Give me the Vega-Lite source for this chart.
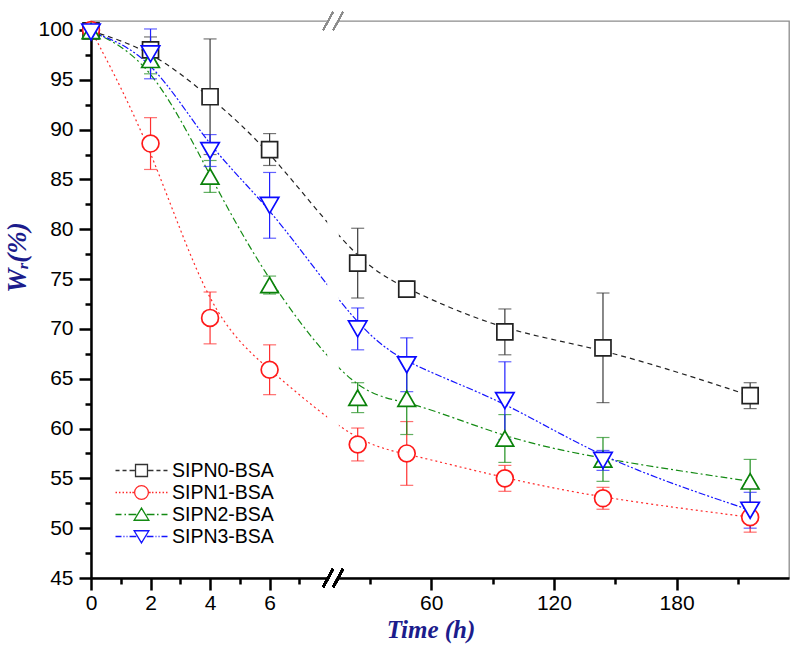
{
  "$schema": "https://vega.github.io/schema/vega-lite/v6.json",
  "width": 698,
  "height": 557,
  "autosize": {"type": "none"},
  "padding": {"left": 91, "top": 21, "right": 11, "bottom": 74},
  "background": "white",
  "config": {
    "view": {"stroke": "#8c8c8c", "strokeWidth": 1.3},
    "font": "Liberation Sans"
  },
  "data": {
    "values": [
      {"s": "SIPN0-BSA", "t": 0, "w": 99.9, "e": 0.3},
      {"s": "SIPN0-BSA", "t": 2, "w": 98.0, "e": 1.3},
      {"s": "SIPN0-BSA", "t": 4, "w": 93.3, "e": 5.8},
      {"s": "SIPN0-BSA", "t": 6, "w": 88.0, "e": 1.6},
      {"s": "SIPN0-BSA", "t": 24, "w": 76.6, "e": 3.5},
      {"s": "SIPN0-BSA", "t": 48, "w": 74.0, "e": 0.8},
      {"s": "SIPN0-BSA", "t": 96, "w": 69.7, "e": 2.3},
      {"s": "SIPN0-BSA", "t": 144, "w": 68.1, "e": 5.5},
      {"s": "SIPN0-BSA", "t": 216, "w": 63.3, "e": 1.3},
      {"s": "SIPN1-BSA", "t": 0, "w": 100.0, "e": 0.2},
      {"s": "SIPN1-BSA", "t": 2, "w": 88.6, "e": 2.6},
      {"s": "SIPN1-BSA", "t": 4, "w": 71.1, "e": 2.6},
      {"s": "SIPN1-BSA", "t": 6, "w": 65.9, "e": 2.5},
      {"s": "SIPN1-BSA", "t": 24, "w": 58.4, "e": 1.65},
      {"s": "SIPN1-BSA", "t": 48, "w": 57.5, "e": 3.2},
      {"s": "SIPN1-BSA", "t": 96, "w": 55.0, "e": 1.3},
      {"s": "SIPN1-BSA", "t": 144, "w": 53.0, "e": 1.1},
      {"s": "SIPN1-BSA", "t": 216, "w": 51.1, "e": 1.5},
      {"s": "SIPN2-BSA", "t": 0, "w": 99.9, "e": 0.3},
      {"s": "SIPN2-BSA", "t": 2, "w": 97.0, "e": 1.4},
      {"s": "SIPN2-BSA", "t": 4, "w": 85.3, "e": 1.6},
      {"s": "SIPN2-BSA", "t": 6, "w": 74.4, "e": 0.9},
      {"s": "SIPN2-BSA", "t": 24, "w": 63.1, "e": 1.5},
      {"s": "SIPN2-BSA", "t": 48, "w": 63.0, "e": 3.6},
      {"s": "SIPN2-BSA", "t": 96, "w": 59.0, "e": 2.4},
      {"s": "SIPN2-BSA", "t": 144, "w": 56.9, "e": 2.2},
      {"s": "SIPN2-BSA", "t": 216, "w": 54.7, "e": 2.2},
      {"s": "SIPN3-BSA", "t": 0, "w": 99.8, "e": 0.3},
      {"s": "SIPN3-BSA", "t": 2, "w": 97.6, "e": 2.5},
      {"s": "SIPN3-BSA", "t": 4, "w": 87.9, "e": 1.6},
      {"s": "SIPN3-BSA", "t": 6, "w": 82.4, "e": 3.3},
      {"s": "SIPN3-BSA", "t": 24, "w": 70.0, "e": 2.1},
      {"s": "SIPN3-BSA", "t": 48, "w": 66.4, "e": 2.7},
      {"s": "SIPN3-BSA", "t": 96, "w": 62.8, "e": 3.9},
      {"s": "SIPN3-BSA", "t": 144, "w": 56.8, "e": 1.0},
      {"s": "SIPN3-BSA", "t": 216, "w": 51.8, "e": 1.8}
    ]
  },
  "resolve": {
    "scale": {"color": "independent", "shape": "independent", "strokeDash": "independent", "size": "independent"},
    "axis": {"x": "independent", "y": "independent"}
  },
  "layer": [
    {
      "mark": {"type": "line", "interpolate": "basis", "strokeWidth": 1.2},
      "encoding": {
        "x": {
          "field": "t", "type": "quantitative",
          "scale": {"domain": [0, 8.18, 12.9, 235], "range": [0, 243.5, 244, 698], "nice": false, "zero": false},
          "axis": {
            "values": [0, 2, 4, 6, 60, 120, 180], "title": "Time (h)", "grid": false, "zindex": 0,
            "domainColor": "black", "domainWidth": 2.5, "tickColor": "black", "tickWidth": 2.5, "tickSize": 12,
            "labelFontSize": 21, "labelColor": "black", "labelPadding": 2, "labelFlush": false, "labelOverlap": false,
            "titleFont": "Liberation Serif", "titleFontStyle": "italic", "titleFontWeight": "bold", "titleFontSize": 25,
            "titleColor": "#1c1c8c", "titlePadding": 4, "titleX": 339.5, "titleAnchor": "middle"
          }
        },
        "y": {
          "field": "w", "type": "quantitative",
          "scale": {"domain": [45, 100.9], "nice": false, "zero": false},
          "axis": {
            "values": [45, 50, 55, 60, 65, 70, 75, 80, 85, 90, 95, 100], "title": "Wᵣ(%)", "grid": false, "zindex": 0,
            "domainColor": "black", "domainWidth": 2.5, "tickColor": "black", "tickWidth": 2.5, "tickSize": 12,
            "labelFontSize": 21, "labelColor": "black", "labelPadding": 6, "labelFlush": false, "labelOverlap": false,
            "titleFont": "Liberation Serif", "titleFontStyle": "italic", "titleFontWeight": "bold", "titleFontSize": 27,
            "titleColor": "#1c1c8c", "titlePadding": 6, "titleY": 236, "titleAnchor": "middle"
          }
        },
        "color": {
          "field": "s", "type": "nominal", "legend": null,
          "scale": {"domain": ["SIPN0-BSA", "SIPN1-BSA", "SIPN2-BSA", "SIPN3-BSA"], "range": ["#222222", "#ff2a2a", "#138a13", "#1414ff"]}
        },
        "strokeDash": {
          "field": "s", "type": "nominal", "legend": null,
          "scale": {"domain": ["SIPN0-BSA", "SIPN1-BSA", "SIPN2-BSA", "SIPN3-BSA"], "range": [[5, 4], [2, 3], [7, 3, 2, 3], [7, 2, 2, 2, 2, 2]]}
        }
      }
    },
    {
      "mark": {"type": "errorbar", "ticks": {"size": 13}, "thickness": 1.2},
      "encoding": {
        "x": {"field": "t", "type": "quantitative", "axis": null},
        "y": {"field": "w", "type": "quantitative", "axis": null},
        "yError": {"field": "e"},
        "color": {
          "field": "s", "type": "nominal", "legend": null,
          "scale": {"domain": ["SIPN0-BSA", "SIPN1-BSA", "SIPN2-BSA", "SIPN3-BSA"], "range": ["#3a3a3a", "#ff3030", "#1f8f1f", "#2020ff"]}
        }
      }
    },
    {
      "mark": {"type": "point", "filled": false, "fill": "white", "fillOpacity": 1, "opacity": 1, "strokeWidth": 1.7},
      "encoding": {
        "x": {
          "field": "t", "type": "quantitative",
          "axis": {"values": [1, 3, 5, 7, 30, 90, 150, 210], "orient": "bottom", "labels": false, "title": null, "domain": false,
                   "grid": false, "zindex": 0, "tickColor": "black", "tickWidth": 2.5, "tickSize": 6}
        },
        "y": {
          "field": "w", "type": "quantitative",
          "axis": {"values": [47.5, 52.5, 57.5, 62.5, 67.5, 72.5, 77.5, 82.5, 87.5, 92.5, 97.5], "orient": "left", "labels": false, "title": null,
                   "domain": false, "grid": false, "zindex": 0, "tickColor": "black", "tickWidth": 2.5, "tickSize": 6}
        },
        "color": {
          "field": "s", "type": "nominal", "legend": null,
          "scale": {"domain": ["SIPN0-BSA", "SIPN1-BSA", "SIPN2-BSA", "SIPN3-BSA"], "range": ["#222222", "#ff1a1a", "#0a820a", "#0a0aff"]}
        },
        "shape": {
          "field": "s", "type": "nominal", "legend": null,
          "scale": {"domain": ["SIPN0-BSA", "SIPN1-BSA", "SIPN2-BSA", "SIPN3-BSA"], "range": ["square", "circle", "triangle-up", "triangle-down"]}
        },
        "size": {
          "field": "s", "type": "nominal", "legend": null,
          "scale": {"domain": ["SIPN0-BSA", "SIPN1-BSA", "SIPN2-BSA", "SIPN3-BSA"], "range": [256, 340, 420, 420]}
        }
      }
    },
    {
      "mark": {"type": "rect", "color": "white", "clip": false},
      "encoding": {
        "x": {"datum": 7.96, "type": "quantitative", "axis": null},
        "x2": {"datum": 14.4},
        "y": {"datum": 44.2, "type": "quantitative", "axis": null},
        "y2": {"datum": 101.7}
      }
    },
    {
      "mark": {"type": "rule", "color": "black", "strokeWidth": 2.2, "clip": false},
      "encoding": {
        "x": {"datum": 7.8, "type": "quantitative", "axis": null},
        "x2": {"datum": 8.13},
        "y": {"datum": 44.1, "type": "quantitative", "axis": null},
        "y2": {"datum": 45.9}
      }
    },
    {
      "mark": {"type": "rule", "color": "black", "strokeWidth": 2.2, "clip": false},
      "encoding": {
        "x": {"datum": 8.14, "type": "quantitative", "axis": null},
        "x2": {"datum": 16.8},
        "y": {"datum": 44.1, "type": "quantitative", "axis": null},
        "y2": {"datum": 45.9}
      }
    },
    {
      "mark": {"type": "rule", "color": "#8c8c8c", "strokeWidth": 1.3, "clip": false},
      "encoding": {
        "x": {"datum": 7.8, "type": "quantitative", "axis": null},
        "x2": {"datum": 8.13},
        "y": {"datum": 100.0, "type": "quantitative", "axis": null},
        "y2": {"datum": 101.8}
      }
    },
    {
      "mark": {"type": "rule", "color": "#8c8c8c", "strokeWidth": 1.3, "clip": false},
      "encoding": {
        "x": {"datum": 8.14, "type": "quantitative", "axis": null},
        "x2": {"datum": 16.8},
        "y": {"datum": 100.0, "type": "quantitative", "axis": null},
        "y2": {"datum": 101.8}
      }
    },
    {
      "transform": [{"filter": "false"}],
      "mark": {"type": "point", "filled": false, "opacity": 1, "strokeWidth": 1.3},
      "encoding": {
        "color": {
          "field": "s", "type": "nominal",
          "scale": {"domain": ["SIPN0-BSA", "SIPN1-BSA", "SIPN2-BSA", "SIPN3-BSA"], "range": ["#333333", "#ff2a2a", "#138a13", "#1414ff"]},
          "legend": {
            "orient": "none", "legendX": 38, "legendY": 437, "title": null, "padding": 0,
            "labelFontSize": 19.5, "labelFont": "Liberation Sans", "labelColor": "black", "labelOffset": 18,
            "symbolSize": 529, "symbolStrokeWidth": 1.3, "rowPadding": 0
          }
        },
        "shape": {
          "field": "s", "type": "nominal",
          "scale": {
            "domain": ["SIPN0-BSA", "SIPN1-BSA", "SIPN2-BSA", "SIPN3-BSA"],
            "range": [
              "M-2.26,0H-1.91M-1.65,0H-1.3M-1.04,0H-0.58M0.58,0H1.04M1.3,0H1.65M1.91,0H2.26M-0.52,-0.52H0.52V0.52H-0.52Z",
              "M-2.26,0H-2.13M-1.96,0H-1.83M-1.65,0H-1.52M-1.35,0H-1.22M-1.04,0H-0.91M-0.8,0H-0.64M0.64,0H0.8M0.91,0H1.04M1.22,0H1.35M1.52,0H1.65M1.83,0H1.96M2.13,0H2.26M-0.6,0A0.6,0.6,0,1,0,0.6,0A0.6,0.6,0,1,0,-0.6,0Z",
              "M-2.26,0H-1.74M-1.48,0H-1.35M-1.13,0H-0.45M0.45,0H1.13M1.35,0H1.48M1.74,0H2.26M0,-0.56L0.64,0.5L-0.64,0.5Z",
              "M-2.26,0H-1.74M-1.57,0H-1.48M-1.3,0H-1.22M-1.04,0H-0.45M0.45,0H1.04M1.22,0H1.3M1.48,0H1.57M1.74,0H2.26M0,0.56L0.64,-0.5L-0.64,-0.5Z"
            ]
          }
        }
      }
    }
  ]
}
